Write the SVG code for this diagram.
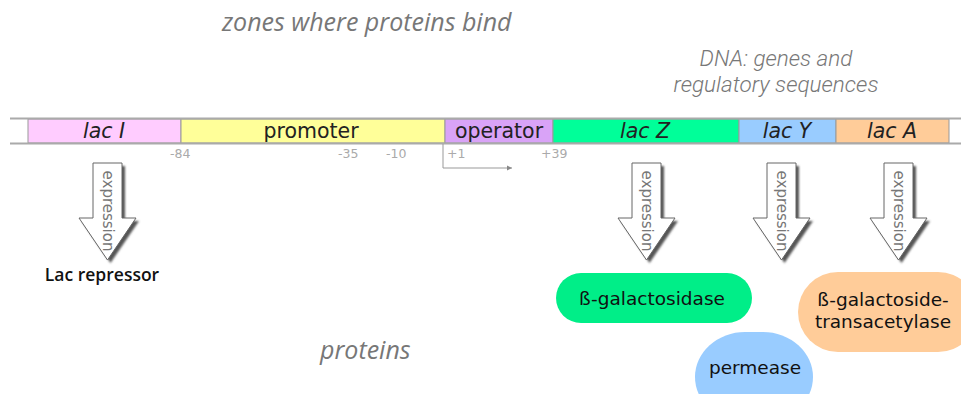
<svg xmlns="http://www.w3.org/2000/svg" width="961" height="394" viewBox="0 0 961 394">
<defs>
<style>
.seg{stroke:#999;stroke-width:1}
.gene{font-family:"DejaVu Sans",sans-serif;font-size:20.5px;fill:#222;text-anchor:middle}
.it{font-style:italic}
.num{font-family:"DejaVu Sans",sans-serif;font-size:12.5px;fill:#aaa}
.expr{font-family:"DejaVu Sans",sans-serif;font-size:15px;fill:#777;text-anchor:middle}
.prot{font-family:"DejaVu Sans",sans-serif;font-size:18.5px;fill:#111;text-anchor:middle}
.title{font-family:"Open Sans",sans-serif;font-style:italic;font-size:25px;fill:#777}
.title2{font-family:Roboto,sans-serif;font-style:italic;font-weight:300;font-size:22.5px;fill:#777;text-anchor:middle}
.arrow{fill:#fff;stroke:#666;stroke-width:1}
</style>
<path id="arr" d="M0,0 H29 V55 H43 L14.5,97 L-14,55 H0 Z"/>
<filter id="blur" x="-20%" y="-20%" width="140%" height="140%"><feGaussianBlur stdDeviation="1"/></filter>
<marker id="ah" markerWidth="6" markerHeight="6" refX="5" refY="3" orient="auto" markerUnits="userSpaceOnUse"><path d="M0,0.5 L5,3 L0,5.5 Z" fill="#888"/></marker>
</defs>
<rect width="961" height="394" fill="#fff"/>

<text class="title" x="222" y="31">zones where proteins bind</text>
<text class="title2" x="776" y="66">DNA: genes and</text>
<text class="title2" x="776" y="92">regulatory sequences</text>
<text class="title" x="320" y="359">proteins</text>

<g id="dna">
<rect x="10" y="119" width="951" height="24" fill="#fff"/>
<g id="lacI"><rect class="seg" x="28" y="119" width="153" height="24" fill="#ffccff"/><text class="gene it" x="104" y="138">lac I</text></g>
<g id="promoter"><rect class="seg" x="181" y="119" width="264" height="24" fill="#ffff99"/><text class="gene" x="311" y="138">promoter</text></g>
<g id="operator"><rect class="seg" x="445" y="119" width="108" height="24" fill="#d9a3f7"/><text class="gene" x="499" y="138">operator</text></g>
<g id="lacZ"><rect class="seg" x="553" y="119" width="186" height="24" fill="#00ff99"/><text class="gene it" x="645" y="138">lac Z</text></g>
<g id="lacY"><rect class="seg" x="739" y="119" width="97" height="24" fill="#99ccff"/><text class="gene it" x="787" y="138">lac Y</text></g>
<g id="lacA"><rect class="seg" x="836" y="119" width="113" height="24" fill="#ffcc99"/><text class="gene it" x="892" y="138">lac A</text></g>
<line x1="10" y1="118.5" x2="961" y2="118.5" stroke="#aaa" stroke-width="2"/>
<line x1="10" y1="143.5" x2="961" y2="143.5" stroke="#aaa" stroke-width="2"/>
<text class="num" x="170" y="158">-84</text>
<text class="num" x="338" y="158">-35</text>
<text class="num" x="386" y="158">-10</text>
<text class="num" x="447" y="158">+1</text>
<text class="num" x="541" y="158">+39</text>
</g>

<g id="connectors">
<path d="M443,144 V168 H512" fill="none" stroke="#999" stroke-width="1" marker-end="url(#ah)"/>
<g id="expr1" transform="translate(93,163)">
<use href="#arr" fill="#555" transform="translate(3,3)" filter="url(#blur)"/>
<use href="#arr" class="arrow"/>
<text class="expr" transform="translate(14.5,48) rotate(90)" y="5">expression</text>
</g>
<g id="expr2" transform="translate(632,163)">
<use href="#arr" fill="#555" transform="translate(3,3)" filter="url(#blur)"/>
<use href="#arr" class="arrow"/>
<text class="expr" transform="translate(14.5,48) rotate(90)" y="5">expression</text>
</g>
<g id="expr3" transform="translate(767,163)">
<use href="#arr" fill="#555" transform="translate(3,3)" filter="url(#blur)"/>
<use href="#arr" class="arrow"/>
<text class="expr" transform="translate(14.5,48) rotate(90)" y="5">expression</text>
</g>
<g id="expr4" transform="translate(884,163)">
<use href="#arr" fill="#555" transform="translate(3,3)" filter="url(#blur)"/>
<use href="#arr" class="arrow"/>
<text class="expr" transform="translate(14.5,48) rotate(90)" y="5">expression</text>
</g>
</g>

<g id="lacRepressor">
<text x="102" y="281" font-family="'Open Sans',sans-serif" font-weight="600" font-size="17.5" fill="#111" text-anchor="middle">Lac repressor</text>
</g>
<g id="bgal">
<rect x="556" y="273" width="196" height="50" rx="25" fill="#00ee88"/>
<text class="prot" x="652" y="305">ß-galactosidase</text>
</g>
<g id="transacetylase">
<rect x="798" y="272" width="180" height="80" rx="40" fill="#ffcc99"/>
<text class="prot" x="883" y="306">ß-galactoside-</text>
<text class="prot" x="883" y="328">transacetylase</text>
</g>
<g id="permease">
<rect x="695" y="332" width="118" height="90" rx="50" fill="#99ccff"/>
<text class="prot" x="755" y="374">permease</text>
</g>
</svg>
